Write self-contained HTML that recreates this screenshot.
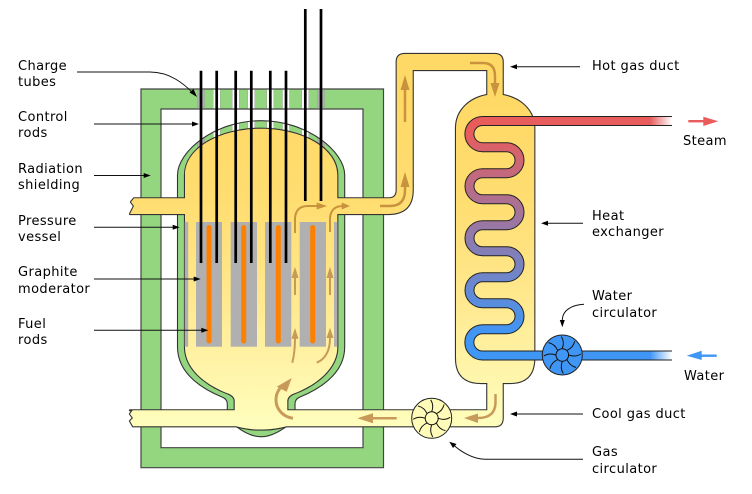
<!DOCTYPE html>
<html><head><meta charset="utf-8"><style>
html,body{margin:0;padding:0;background:#fff}
svg{display:block}
text{font-family:"DejaVu Sans",sans-serif;font-size:13px;letter-spacing:.4px;fill:#000}
</style></head><body>
<svg width="752" height="494" viewBox="0 0 752 494" xmlns="http://www.w3.org/2000/svg">
<defs>
<linearGradient id="gas" gradientUnits="userSpaceOnUse" x1="0" y1="100" x2="0" y2="420">
<stop offset="0" stop-color="#ffd966"/><stop offset=".31" stop-color="#ffdd70"/><stop offset=".62" stop-color="#ffe88e"/><stop offset="1" stop-color="#fffdbb"/>
</linearGradient>
<linearGradient id="tube" gradientUnits="userSpaceOnUse" x1="0" y1="130" x2="0" y2="335">
<stop offset="0" stop-color="#e85c5c"/><stop offset="1" stop-color="#3f96f5"/>
</linearGradient>
<linearGradient id="fade" x1="0" y1="0" x2="1" y2="0">
<stop offset="0" stop-color="#fff" stop-opacity="0"/><stop offset="1" stop-color="#fff"/>
</linearGradient>
<clipPath id="dome"><path d="M177.5 175C177.5 152 214 120.7 261 120.7C308 120.7 344.7 152 344.7 175V200H177.5Z"/></clipPath>
<g id="g1">
<path d="M185 347V175C185 148 220 128.7 261 128.7C302 128.7 337.3 148 337.3 175V347C337.3 370 314 386 294 393.5Q287.3 396 287.3 401V415H234.7V401Q234.7 396 228 393.5C208 386 185 370 185 347Z"/>
<path d="M134 198.3L131 202L134 206L130 214H190V198.3Z"/>
<path d="M330 198.3H389Q396.7 198.3 396.7 190V62Q396.7 54 404.7 54H494.7Q502.7 54 502.7 62V100H487.3V70H412.7V190Q412.7 214 388 214H330Z"/>
<path d="M487.3 95C470 98 456 110 456 128V358Q456 383 481 383H510Q534.3 383 534.3 358V128C534.3 110 520 98 502.7 95Z"/>
<path d="M132.7 410.3L130 414L133 418L130 421L133 426.3H236Q250 430 261 429.5Q272 430 286.7 426.3H495Q502.7 426.3 502.7 418V375H487.3V410.3H130Z"/>
</g>
<g id="blades" fill="none" stroke="#111" stroke-width="1">
<path id="b" d="M0 -6.5Q2.5 -13 -1 -18.5"/>
<use href="#b" transform="rotate(45)"/><use href="#b" transform="rotate(90)"/><use href="#b" transform="rotate(135)"/>
<use href="#b" transform="rotate(180)"/><use href="#b" transform="rotate(225)"/><use href="#b" transform="rotate(270)"/><use href="#b" transform="rotate(315)"/>
</g>
</defs>

<!-- shielding -->
<path d="M141 89H383.5V467.7H141ZM161 109V447.7H363V109Z" fill="#94d680" fill-rule="evenodd" stroke="#444" stroke-width="1.2"/>
<g stroke="#999" stroke-width=".4" fill="#fff">
<rect x="197.5" y="89.6" width="7" height="18.8" fill="#b0b0b0"/>
<rect x="213.2" y="89.6" width="7" height="18.8"/><rect x="232.2" y="89.6" width="7" height="18.8"/>
<rect x="247.8" y="89.6" width="7" height="18.8"/><rect x="266.8" y="89.6" width="7" height="18.8"/>
<rect x="282.5" y="89.6" width="7" height="18.8"/><rect x="301.8" y="89.6" width="7" height="18.8"/>
<rect x="317.5" y="89.6" width="7" height="18.8" fill="#b0b0b0"/>
</g>

<!-- vessel wall -->
<path d="M177.5 175C177.5 152 214 120.7 261 120.7C308 120.7 344.7 152 344.7 175V347C344.7 375 317 390 300 397Q295 399 295 404V426.3H286.7Q272 437 261 436.7Q250 437 236 426.3H227.3V404Q227.3 399 222 397C205 390 177.5 375 177.5 347Z" fill="#94d680"/>
<g clip-path="url(#dome)" stroke="#999" stroke-width=".4" fill="#fff">
<rect x="197.5" y="115" width="7" height="50" fill="#b0b0b0"/>
<rect x="213.2" y="115" width="7" height="50"/><rect x="232.2" y="115" width="7" height="50"/>
<rect x="247.8" y="115" width="7" height="50"/><rect x="266.8" y="115" width="7" height="50"/>
<rect x="282.5" y="115" width="7" height="50"/><rect x="301.8" y="115" width="7" height="50"/>
<rect x="317.5" y="115" width="7" height="50" fill="#b0b0b0"/>
</g>
<path d="M177.5 175C177.5 152 214 120.7 261 120.7C308 120.7 344.7 152 344.7 175V347C344.7 375 317 390 300 397Q295 399 295 404V426.3H286.7Q272 437 261 436.7Q250 437 236 426.3H227.3V404Q227.3 399 222 397C205 390 177.5 375 177.5 347Z" fill="none" stroke="#333" stroke-width="1.1"/>

<!-- gas volume -->
<use href="#g1" fill="#333" stroke="#333" stroke-width="2.2" stroke-linejoin="round"/>
<use href="#g1" fill="url(#gas)"/>

<!-- graphite -->
<g fill="#b0b0b0">
<rect x="184.7" y="222" width="3.5" height="124.7"/>
<rect x="196" y="222" width="26" height="124.7"/>
<rect x="230.7" y="222" width="26.3" height="124.7"/>
<rect x="265" y="222" width="26.3" height="124.7"/>
<rect x="299.7" y="222" width="26.3" height="124.7"/>
<rect x="334" y="222" width="3.3" height="124.7"/>
</g>
<g fill="#ff8000">
<rect x="206.5" y="225" width="5" height="118.5" rx="2.5"/>
<rect x="241.2" y="225" width="5" height="118.5" rx="2.5"/>
<rect x="275.8" y="225" width="5" height="118.5" rx="2.5"/>
<rect x="310.2" y="225" width="5" height="118.5" rx="2.5"/>
</g>

<!-- control rods -->
<g stroke="#000" stroke-width="2.7">
<path d="M201 70.7V263M216.7 70.7V263M235.7 70.7V263M251.3 70.7V263M270.3 70.7V263M286 70.7V263M305.3 9V201M321 9V201"/>
</g>

<!-- flow arrows -->
<g fill="none" stroke="#c9933e" stroke-width="2">
<path d="M295 233V218Q296 206 308 206H318"/>
<path d="M330 232V218Q331 206 343 206"/>
</g>
<g fill="none" stroke="#c9933e" stroke-width="2.5">
<path d="M380 206H390Q405 206 405 190V186"/>
<path d="M405 122V88"/>
<path d="M470 63H483Q495 63 495 76V85"/>
</g>
<g fill="none" stroke="#c89a5a" stroke-width="2.5">
<path d="M495.5 394V403Q495 418 478 418"/>
<path d="M396.7 418.3H372"/>
</g>
<path d="M293 418.3C284 417 276 410 276 400C276 394 278 390 283 385" fill="none" stroke="#c89a5a" stroke-width="3"/>
<g fill="none" stroke="#c89a5a" stroke-width="2">
<path d="M292.3 362.7Q295 352 295 338"/>
<path d="M316.7 362.7Q330 357 330 338"/>
<path d="M295 295V276"/>
<path d="M330 295V276"/>
</g>
<g fill="#c9933e">
<polygon points="316.7,202.5 327,206 316.7,209.5"/>
<polygon points="341.7,202.5 350,206 341.7,209.5"/>
<polygon points="400.5,187 405,172 409.5,187"/>
<polygon points="400.5,90 405,75 409.5,90"/>
<polygon points="490.5,83 495,97 499.5,83"/>
</g>
<g fill="#c89a5a">
<polygon points="478,413.5 464,418 478,423"/>
<polygon points="373,413.3 357.3,418.3 373,423.3"/>
<polygon points="276.7,386.7 291.7,378 286.7,391.7"/>
<polygon points="291.5,338.7 295,328 298.5,338.7"/>
<polygon points="326.5,338 330,327.7 333.5,338"/>
<polygon points="291.5,278 295,266.7 298.5,278"/>
<polygon points="326.5,278 330,266.7 333.5,278"/>
</g>

<!-- heat exchanger tube -->
<path d="M672 121H482.5a13 13 0 0 0 0 26.2H506.5a13 13 0 0 1 0 26H482.5a13 13 0 0 0 0 26H506.5a13 13 0 0 1 0 26H482.5a13 13 0 0 0 0 26H506.5a13 13 0 0 1 0 26H482.5a13 13 0 0 0 0 26H506.5a13 13 0 0 1 0 26H482.5a13 13 0 0 0 0 26.3H672" fill="none" stroke="#222" stroke-width="10"/>
<path d="M672 121H482.5a13 13 0 0 0 0 26.2H506.5a13 13 0 0 1 0 26H482.5a13 13 0 0 0 0 26H506.5a13 13 0 0 1 0 26H482.5a13 13 0 0 0 0 26H506.5a13 13 0 0 1 0 26H482.5a13 13 0 0 0 0 26H506.5a13 13 0 0 1 0 26H482.5a13 13 0 0 0 0 26.3H672" fill="none" stroke="url(#tube)" stroke-width="8"/>
<rect x="650" y="117" width="22" height="8" fill="url(#fade)"/>
<rect x="650" y="351.5" width="22" height="8" fill="url(#fade)"/>

<!-- circulators -->
<g transform="translate(562.3 355)">
<circle r="20" fill="#3f96f5" stroke="#222" stroke-width="1"/>
<use href="#blades"/>
<circle r="6.3" fill="#3f96f5" stroke="#111" stroke-width="1"/>
</g>
<g transform="translate(431.7 418.3)">
<circle r="20" fill="#fffbb8" stroke="#222" stroke-width="1"/>
<use href="#blades"/>
<circle r="6.5" fill="#fffbb8" stroke="#111" stroke-width="1"/>
</g>

<!-- steam / water arrows -->
<rect x="688.3" y="120" width="16" height="2.4" fill="#e85c5c"/>
<polygon points="703.3,116.7 718.3,121.2 703.3,126" fill="#e85c5c"/>
<rect x="700" y="354.5" width="16.7" height="2.4" fill="#3f96f5"/>
<polygon points="701.7,350.7 686.7,355.7 701.7,360" fill="#3f96f5"/>

<!-- leaders -->
<g fill="none" stroke="#111" stroke-width="1">
<path d="M77 72H150C170 72 184 84 193 93"/>
<path d="M94 124H194"/>
<path d="M94 175.5H145"/>
<path d="M94 227.3H174"/>
<path d="M94 279H195"/>
<path d="M94 330.3H203"/>
<path d="M580 66.7H515"/>
<path d="M583 223.3H546"/>
<path d="M583 414H515"/>
<path d="M583 459.3H485C472 459 460 451 453 444.5"/>
<path d="M584 304.3C572 305 562 310 562.3 321"/>
</g>
<g fill="#000">
<polygon points="197,97 189.5,92.5 193.5,89"/>
<polygon points="199,124 192,121.5 192,126.5"/>
<polygon points="150.7,175.5 143.7,173 143.7,178"/>
<polygon points="179.7,227.3 172.7,224.8 172.7,229.8"/>
<polygon points="200.7,279 193.7,276.5 193.7,281.5"/>
<polygon points="208.3,330.3 201.3,327.8 201.3,332.8"/>
<polygon points="510,66.7 517,64.2 517,69.2"/>
<polygon points="541,223.3 548,220.8 548,225.8"/>
<polygon points="510,414 517,411.5 517,416.5"/>
<polygon points="449.3,441.7 456.5,444 453,448"/>
<polygon points="562.3,327.3 559.8,320 564.8,320"/>
</g>

<!-- labels -->
<text x="18" y="70">Charge</text><text x="18" y="86">tubes</text>
<text x="18" y="121">Control</text><text x="18" y="137">rods</text>
<text x="18" y="173">Radiation</text><text x="18" y="189">shielding</text>
<text x="18" y="225">Pressure</text><text x="18" y="241">vessel</text>
<text x="18" y="276">Graphite</text><text x="18" y="293">moderator</text>
<text x="18" y="328">Fuel</text><text x="18" y="344">rods</text>
<text x="592" y="70">Hot gas duct</text>
<text x="683" y="145">Steam</text>
<text x="592" y="220">Heat</text><text x="592" y="236">exchanger</text>
<text x="592" y="300">Water</text><text x="592" y="317">circulator</text>
<text x="684" y="380">Water</text>
<text x="592" y="418">Cool gas duct</text>
<text x="592" y="456">Gas</text><text x="592" y="473">circulator</text>
</svg>
</body></html>
